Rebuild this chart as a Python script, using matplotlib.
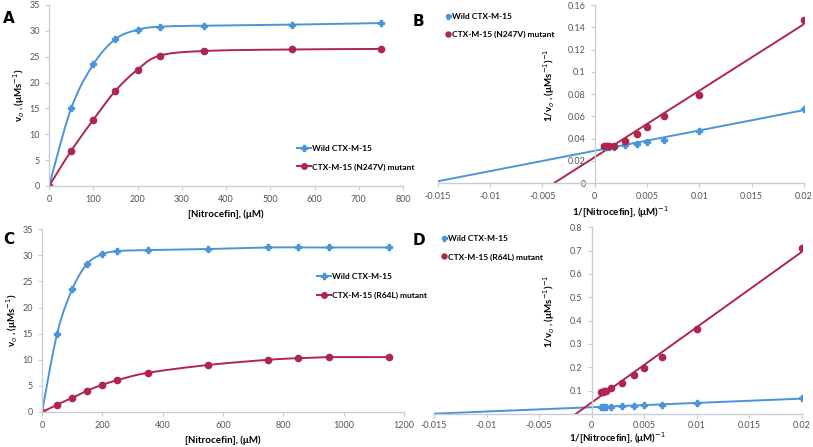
import matplotlib.pyplot as plt
import numpy as np
from matplotlib.ticker import FuncFormatter

# ---- data ----
conc_a = [0, 50, 100, 150, 200, 250, 350, 550, 750]
wild_a = [0, 15.0, 23.5, 28.4, 30.2, 30.8, 31.0, 31.2, 31.5]
n247v_a = [0, 6.8, 12.8, 18.4, 22.5, 25.2, 26.1, 26.4, 26.5]

conc_c = [0, 50, 100, 150, 200, 250, 350, 550, 750, 850, 950, 1150]
wild_c = [0, 15.0, 23.5, 28.4, 30.2, 30.8, 31.0, 31.2, 31.5, 31.5, 31.5, 31.5]
r64l_c = [0, 1.4, 2.7, 4.1, 5.2, 6.1, 7.5, 9.0, 10.0, 10.3, 10.5, 10.5]

inv_s = [0.02, 0.01, 0.00667, 0.005, 0.004, 0.00286, 0.00182, 0.00133, 0.00118, 0.00105, 0.00087]
wild_b = [0.067, 0.0465, 0.039, 0.037, 0.035, 0.034, 0.032, 0.0325, 0.032, 0.032, 0.032]
n247v_b = [0.147, 0.079, 0.060, 0.050, 0.044, 0.038, 0.033, 0.033, 0.033, 0.033, 0.033]
wild_d = [0.067, 0.047, 0.040, 0.037, 0.036, 0.034, 0.032, 0.032, 0.032, 0.032, 0.032]
r64l_d = [0.71, 0.365, 0.243, 0.197, 0.165, 0.133, 0.110, 0.100, 0.097, 0.095, 0.095]

BLUE = '#4a95da'
RED = '#b0254d'
AXC = '#c5cdd9'
TXT = '#555555'

plt.rcParams['font.family'] = ['Lato', 'DejaVu Sans']


def smooth(x, y, n=24):
    # excel-like smoothed line (bezier through the points)
    p = np.column_stack([x, y]).astype(float)
    out = [p[0]]
    for i in range(len(p) - 1):
        p0 = p[i - 1] if i > 0 else p[i]
        p1, p2 = p[i], p[i + 1]
        p3 = p[i + 2] if i + 2 < len(p) else p[i + 1]
        c1 = p1 + (p2 - p0) / 6
        c2 = p2 - (p3 - p1) / 6
        t = np.linspace(0, 1, n)[1:, None]
        seg = (1 - t)**3 * p1 + 3 * (1 - t)**2 * t * c1 + 3 * (1 - t) * t**2 * c2 + t**3 * p2
        out.extend(seg)
    out = np.array(out)
    return out[:, 0], out[:, 1]


def style(ax):
    for s in ['top', 'right']:
        ax.spines[s].set_visible(False)
    for s in ['left', 'bottom']:
        ax.spines[s].set_color(AXC)
        ax.spines[s].set_linewidth(1.0)
    ax.tick_params(colors=AXC, labelcolor=TXT, labelsize=6.5, length=3, width=0.8)
    ax.set_facecolor('none')
    ax.yaxis.set_major_formatter(FuncFormatter(lambda v, p: '%g' % round(v, 6)))
    ax.xaxis.set_major_formatter(FuncFormatter(lambda v, p: '%g' % round(v, 6)))


fig = plt.figure(figsize=(8.13, 4.47), dpi=100)

# ---- A ----
axA = fig.add_axes([0.0603, 0.5839, 0.4354, 0.405])
style(axA)
xs, ys = smooth(conc_a, wild_a)
axA.plot(xs, ys, color=BLUE, lw=1.4)
axA.plot(conc_a, wild_a, 'P', color=BLUE, ms=4.5, ls='none')
xs, ys = smooth(conc_a, n247v_a)
axA.plot(xs, ys, color=RED, lw=1.4)
axA.plot(conc_a, n247v_a, 'o', color=RED, ms=4.5, ls='none')
axA.plot([], [], color=BLUE, marker='P', ms=4, lw=1.4, label='Wild CTX-M-15')
axA.plot([], [], color=RED, marker='o', ms=4, lw=1.4, label='CTX-M-15 (N247V) mutant')
axA.set_xlim(0, 800)
axA.set_ylim(0, 35)
axA.set_xticks(np.arange(0, 801, 100))
axA.set_yticks(np.arange(0, 36, 5))
axA.set_xlabel('[Nitrocefin], (μM)', fontsize=7, fontweight='bold', labelpad=4)
axA.set_ylabel('v$_o$ , (μMs$^{-1}$)', fontsize=7, fontweight='bold', labelpad=2)
axA.legend(loc='upper left', bbox_to_anchor=(0.68, 0.27), frameon=False,
           prop={'size': 6, 'weight': 'bold'}, labelspacing=1.4, handlelength=1.6,
           handletextpad=0.2)

# ---- C ----
axC = fig.add_axes([0.0517, 0.0783, 0.4453, 0.409])
style(axC)
xs, ys = smooth(conc_c, wild_c)
axC.plot(xs, ys, color=BLUE, lw=1.4)
axC.plot(conc_c, wild_c, 'P', color=BLUE, ms=4.5, ls='none')
xs, ys = smooth(conc_c, r64l_c)
axC.plot(xs, ys, color=RED, lw=1.4)
axC.plot(conc_c, r64l_c, 'o', color=RED, ms=4.5, ls='none')
axC.plot([], [], color=BLUE, marker='P', ms=4, lw=1.4, label='Wild CTX-M-15')
axC.plot([], [], color=RED, marker='o', ms=4, lw=1.4, label='CTX-M-15 (R64L) mutant')
axC.set_xlim(0, 1200)
axC.set_ylim(0, 35)
axC.set_xticks(np.arange(0, 1201, 200))
axC.set_yticks(np.arange(0, 36, 5))
axC.set_xlabel('[Nitrocefin], (μM)', fontsize=7, fontweight='bold', labelpad=4)
axC.set_ylabel('v$_o$ , (μMs$^{-1}$)', fontsize=7, fontweight='bold', labelpad=2)
axC.legend(loc='upper left', bbox_to_anchor=(0.74, 0.80), frameon=False,
           prop={'size': 6, 'weight': 'bold'}, labelspacing=1.4, handlelength=1.6,
           handletextpad=0.2)


# ---- Lineweaver-Burk panels ----
def lb_panel(rect, ymax, ystep, wild, mut, mut_label, ylab_x, hide_zero, xpad, tpad):
    ax = fig.add_axes(rect)
    style(ax)
    ax.spines['left'].set_position(('data', 0))
    ax.tick_params(axis='x', pad=tpad)
    for yy, col in [(wild, BLUE), (mut, RED)]:
        k, b = np.polyfit(inv_s, yy, 1)
        x0 = -b / k
        xl = np.array([x0, 0.02])
        ax.plot(xl, k * xl + b, color=col, lw=1.4)
    ax.plot(inv_s, wild, 'P', color=BLUE, ms=4.5, ls='none', label='Wild CTX-M-15')
    ax.plot(inv_s, mut, 'o', color=RED, ms=4.5, ls='none', label=mut_label)
    ax.set_xlim(-0.015, 0.02)
    ax.set_ylim(0, ymax)
    ax.set_xticks(np.arange(-0.015, 0.0201, 0.005))
    ticks = np.arange(0, ymax + ystep / 2, ystep)
    ax.set_yticks(ticks)
    if hide_zero:
        ax.set_yticklabels([''] + ['%g' % round(t, 6) for t in ticks[1:]])
    ax.set_xlabel('1/[Nitrocefin], (μM)$^{-1}$', fontsize=7, fontweight='bold', labelpad=xpad)
    ax.set_ylabel('1/v$_o$ , (μMs$^{-1}$)$^{-1}$', fontsize=7, fontweight='bold')
    ax.yaxis.set_label_coords(ylab_x, 0.55)
    ax.legend(loc='upper left', bbox_to_anchor=(0.0, 1.0), frameon=False,
              prop={'size': 6, 'weight': 'bold'}, labelspacing=1.4, handlelength=0.6,
              handletextpad=0.2, markerscale=0.8)
    return ax


axB = lb_panel([0.5387, 0.5906, 0.450, 0.398], 0.16, 0.02, wild_b, n247v_b,
               'CTX-M-15 (N247V) mutant', 0.325, False, 2, 3.5)
axD = lb_panel([0.5338, 0.0738, 0.4526, 0.418], 0.8, 0.1, wild_d, r64l_d,
               'CTX-M-15 (R64L) mutant', 0.335, True, 0, 2)

# panel letters
for lab, x, y in [('A', 0.004, 0.975), ('B', 0.508, 0.968), ('C', 0.004, 0.48), ('D', 0.508, 0.478)]:
    fig.text(x, y, lab, fontsize=11, fontweight='bold', va='top', family='DejaVu Sans')

fig.savefig('out.png', dpi=100)
